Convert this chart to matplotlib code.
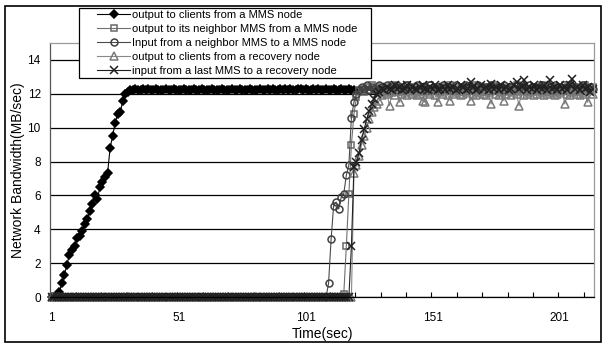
import numpy as np
import matplotlib.pyplot as plt
from matplotlib.patches import Rectangle

# Values (categories 1..214, one per second)
N_CATEGORIES = 214
X_LABELS = ['1', '51', '101', '151', '201']

LABELS = [
    'output to clients from a MMS node',
    'output to its neighbor MMS from a MMS node',
    'Input from a neighbor MMS to a MMS node',
    'output to clients from a recovery node',
    'input from a last MMS to a recovery node',
]

# output to clients from a MMS node (ramp up, plateau, then node stops)
mms_clients_ramp = [0.0, 0.0, 0.0, 0.3, 0.8, 1.3, 1.9, 2.5, 2.8, 3.0,
                    3.5, 3.6, 3.9, 4.3, 4.6, 5.1, 5.5, 6.0, 5.8, 6.5,
                    6.8, 7.1, 7.3, 8.8, 9.5, 10.3, 10.8, 10.9, 11.6, 12.0,
                    12.1]
mms_clients_plateau = [12.2, 12.2, 12.3, 12.2, 12.2, 12.3, 12.2, 12.3, 12.2, 12.2,
                       12.3, 12.2, 12.2, 12.2, 12.3, 12.2, 12.2, 12.3, 12.2, 12.2,
                       12.2, 12.3, 12.2, 12.2, 12.2, 12.3, 12.2, 12.2, 12.3, 12.2,
                       12.2, 12.2, 12.3, 12.2, 12.2, 12.2, 12.3, 12.2, 12.2, 12.2,
                       12.3, 12.2, 12.2, 12.3, 12.2, 12.2, 12.2, 12.3, 12.2, 12.2,
                       12.2, 12.3, 12.2, 12.2, 12.3, 12.2, 12.3, 12.2, 12.2, 12.3,
                       12.2, 12.3, 12.2, 12.3, 12.2, 12.2, 12.3, 12.3, 12.2, 12.3,
                       12.2, 12.2, 12.3, 12.2, 12.3, 12.2, 12.2, 12.3, 12.2, 12.2,
                       12.3, 12.2, 12.2, 12.3, 12.2, 12.2, 12.3, 12.2, 12.2]

# output to its neighbor MMS from a MMS node
neighbor_out_rise = [0.2, 3.0, 6.1, 9.0, 10.8, 11.8, 12.2]
neighbor_out_band = [12.3, 12.1, 12.4, 12.2, 12.5, 12.3, 12.2, 12.4, 12.1, 12.3,
                     12.4, 12.2, 12.5, 12.3, 12.1, 12.4, 12.3, 12.2, 12.5, 12.3,
                     12.2, 12.4, 12.3, 12.1, 12.4, 12.2, 12.3, 12.5, 12.2, 12.3,
                     12.4, 12.1, 12.3, 12.4, 12.2, 12.5, 12.3, 12.2, 12.4, 12.3,
                     12.1, 12.4, 12.2, 12.3, 12.5, 12.2, 12.4, 12.3, 12.1, 12.4,
                     12.3, 12.2, 12.5, 12.3, 12.2, 12.4, 12.1, 12.3, 12.4, 12.2,
                     12.3, 12.5, 12.2, 12.3, 12.4, 12.1, 12.3, 12.2, 12.4, 12.3,
                     12.2, 12.5, 12.3, 12.1, 12.4, 12.2, 12.3, 12.4, 12.2, 12.3,
                     12.5, 12.2, 12.4, 12.3, 12.1, 12.4, 12.3, 12.2, 12.5, 12.3,
                     12.2, 12.4]

# Input from a neighbor MMS to a MMS node
neighbor_in_rise = [0.8, 3.4, 5.4, 5.6, 5.2, 5.9, 6.1, 7.2, 7.8, 10.6, 11.5, 12.0]
neighbor_in_band = [12.2, 12.4, 12.3, 12.5, 12.2, 12.4, 12.3, 12.2, 12.5, 12.4,
                    12.3, 12.5, 12.2, 12.4, 12.3, 12.5, 12.4, 12.2, 12.3, 12.5,
                    12.4, 12.3, 12.2, 12.5, 12.3, 12.4, 12.2, 12.3, 12.5, 12.4,
                    12.2, 12.3, 12.4, 12.5, 12.3, 12.2, 12.4, 12.3, 12.5, 12.2,
                    12.4, 12.3, 12.5, 12.4, 12.2, 12.3, 12.4, 12.5, 12.3, 12.2,
                    12.4, 12.3, 12.5, 12.2, 12.4, 12.3, 12.4, 12.5, 12.2, 12.3,
                    12.4, 12.2, 12.5, 12.3, 12.4, 12.3, 12.2, 12.5, 12.4, 12.3,
                    12.2, 12.4, 12.5, 12.3, 12.2, 12.4, 12.3, 12.5, 12.4, 12.2,
                    12.3, 12.4, 12.2, 12.5, 12.3, 12.4, 12.3, 12.2, 12.5, 12.4,
                    12.3, 12.4, 12.3]

# output to clients from a recovery node
recovery_out_rise = [7.3, 7.8, 8.3, 9.0, 9.5, 10.0, 10.5, 10.9, 11.2, 11.4, 11.6]
recovery_out_band = [11.9, 12.1, 12.0, 11.3, 12.1, 11.9, 12.2, 11.5, 12.0, 12.1,
                     11.9, 12.2, 12.0, 12.1, 11.9, 12.0, 11.6, 11.5, 12.1, 12.0,
                     12.2, 11.9, 11.5, 12.1, 12.0, 12.2, 11.9, 11.6, 12.0, 12.1,
                     12.2, 11.9, 12.0, 12.1, 12.2, 11.6, 12.0, 11.9, 12.1, 12.2,
                     12.0, 11.9, 12.1, 11.4, 12.2, 12.0, 11.9, 12.1, 11.6, 12.0,
                     12.2, 11.9, 12.1, 12.0, 11.3, 12.2, 11.9, 12.0, 12.1, 12.2,
                     11.9, 12.0, 12.2, 12.1, 11.9, 12.0, 12.2, 12.1, 11.9, 12.0,
                     12.1, 12.2, 11.4, 12.0, 11.9, 12.1, 12.2, 12.0, 11.9, 12.1,
                     12.0, 11.5, 12.2, 12.0]

# input from a last MMS to a recovery node
recovery_in_rise = [3.0, 7.7, 8.0, 8.5, 9.3, 9.9, 10.5, 11.0, 11.4, 11.7, 12.0]
recovery_in_band = [12.1, 12.3, 12.2, 12.4, 12.3, 12.2, 12.5, 12.3, 12.4, 12.2,
                    12.3, 12.5, 12.2, 12.4, 12.3, 12.2, 12.4, 12.5, 12.3, 12.2,
                    12.4, 12.3, 12.5, 12.2, 12.3, 12.4, 12.2, 12.5, 12.3, 12.4,
                    12.2, 12.3, 12.5, 12.4, 12.2, 12.3, 12.7, 12.4, 12.2, 12.3,
                    12.5, 12.3, 12.4, 12.2, 12.6, 12.3, 12.4, 12.2, 12.5, 12.3,
                    12.4, 12.2, 12.3, 12.5, 12.7, 12.3, 12.4, 12.8, 12.2, 12.4,
                    12.3, 12.5, 12.2, 12.4, 12.3, 12.5, 12.2, 12.8, 12.3, 12.4,
                    12.2, 12.5, 12.3, 12.4, 12.2, 12.5, 12.9, 12.3, 12.4, 12.2,
                    12.5, 12.3, 12.4, 12.1, 12.3]


def build_series():
    return [
        mms_clients_ramp + mms_clients_plateau,
        [0.0] * 115 + neighbor_out_rise + neighbor_out_band,
        [0.0] * 109 + neighbor_in_rise + neighbor_in_band,
        [0.0] * 119 + recovery_out_rise + recovery_out_band,
        [0.0] * 118 + recovery_in_rise + recovery_in_band,
    ]


def main():
    series = build_series()

    # marker, size, line colour, marker edge colour, face colour
    styles = [
        ('D', 3.6, 'black', 'black', 'black'),
        ('s', 5.0, '#707070', '#686868', 'none'),
        ('o', 5.0, '#4a4a4a', '#404040', 'none'),
        ('^', 5.6, '#888888', '#7a7a7a', 'none'),
        ('x', 5.6, '#202020', '#202020', 'none'),
    ]

    fig = plt.figure(figsize=(6.06, 3.45), dpi=100)
    plt.rcParams['font.family'] = ['Liberation Sans', 'DejaVu Sans']

    ax = fig.add_axes([50.4 / 606, 1 - 297 / 345, 543.6 / 606, 254 / 345])

    for values, label, (mk, ms, lc, ec, fc) in zip(series, LABELS, styles):
        x = np.arange(1, len(values) + 1)
        ax.plot(x, values, color=lc, lw=0.8, marker=mk, markersize=ms,
                markeredgecolor=ec, markerfacecolor=fc, markeredgewidth=1.1,
                label=label, clip_on=False)

    ax.set_xlim(0.5, N_CATEGORIES + 0.5)
    ax.set_ylim(0, 15)

    # Horizontal gridlines, black like the original
    ax.set_yticks(np.arange(0, 16, 2))
    ax.set_yticklabels([str(v) for v in range(0, 16, 2)], fontsize=8.5)
    ax.yaxis.grid(True, color='black', lw=0.9)
    ax.set_axisbelow(True)
    ax.tick_params(axis='y', length=0, pad=7)

    # Labels every 50 seconds, small inward tick marks every 10
    ax.set_xticks([int(s) for s in X_LABELS])
    ax.set_xticklabels(X_LABELS, fontsize=8.5)
    ax.set_xticks(np.arange(0.5, N_CATEGORIES + 1, 10), minor=True)
    ax.tick_params(axis='x', which='major', length=0, pad=11)
    ax.tick_params(axis='x', which='minor', direction='in', length=3.5,
                   width=0.8, color='black')

    for side in ['top', 'right']:
        ax.spines[side].set_color('#9a9a9a')
        ax.spines[side].set_linewidth(0.9)
    ax.spines['left'].set_color('#555555')
    ax.spines['left'].set_linewidth(0.9)
    ax.spines['bottom'].set_color('black')
    ax.spines['bottom'].set_linewidth(0.9)

    ax.set_xlabel('Time(sec)', fontsize=10, labelpad=2)
    ax.set_ylabel('Network Bandwidth(MB/sec)', fontsize=10, labelpad=1.5)

    # Legend box drawn separately so the padding can differ per side
    fig.add_artist(Rectangle((79 / 606, 1 - 78 / 345), 292 / 606, 70 / 345,
                             transform=fig.transFigure, facecolor='white',
                             edgecolor='black', lw=0.9, zorder=4))
    fig.legend(loc='upper left', bbox_to_anchor=(97 / 606, 1 - 9.5 / 345),
               borderaxespad=0, borderpad=0, fontsize=8, frameon=False,
               handlelength=3.0, handletextpad=0.15, labelspacing=0.36)

    # Border round the whole chart area
    fig.add_artist(Rectangle((5 / 606, 3 / 345), 596 / 606, 336 / 345,
                             transform=fig.transFigure, fill=False,
                             edgecolor='black', lw=1.2))

    plt.savefig('out.png', dpi=100)


if __name__ == '__main__':
    main()
